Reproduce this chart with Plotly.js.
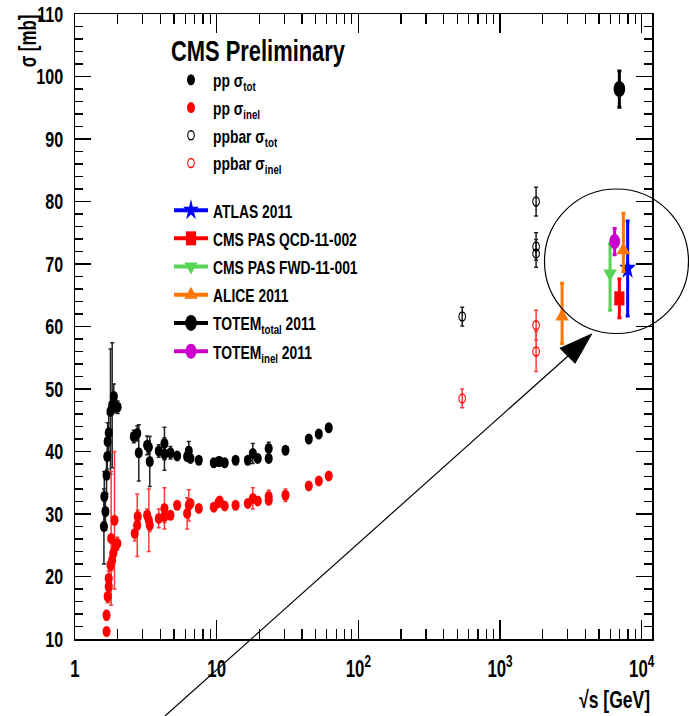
<!DOCTYPE html>
<html>
<head>
<meta charset="utf-8">
<script src="https://cdn.plot.ly/plotly-3.0.1.min.js"></script>
<style>html,body{margin:0;padding:0;background:#fff;}#chart{width:689px;height:716px;}</style>
</head>
<body>
<div id="chart"></div>
<script>
// ---------- data ----------
const ppTotE = [1.60,1.61,1.64,1.67,1.69,1.70,1.73,1.78,1.83,1.88,1.93,2.00,2.60,2.75,2.82,3.23,3.32,3.37,3.90,4.28,4.28,4.72,5.26,6.19,6.36,6.53,7.48,9.54,10.3,10.5,11.4,13.6,16.6,18.0,19.5,23.3,23.3,30.6,44.7,52.6,61.8];
const ppTot = [28.0,32.8,30.4,36.2,39.2,41.6,43.0,46.4,47.4,48.8,47.2,47.1,42.4,42.9,39.8,41.0,40.7,38.4,40.1,41.3,39.6,39.8,39.3,39.2,40.1,38.9,38.6,38.2,38.4,38.4,38.2,38.6,38.6,39.7,38.9,40.5,38.9,40.2,42.0,42.8,43.8];
const ppTotErr = [6,4,3,3,2,3,3,10,10,2,1,1,1,1.2,4.5,1.5,1,4,1,2.6,2.6,1,0.5,0.5,1.5,0.5,0.5,0.3,0.3,0.3,0.3,0.5,0.5,1.6,0.6,1,0.5,0.3,0.3,0.3,0.3];

const ppInelE = [1.67,1.67,1.70,1.73,1.73,1.78,1.80,1.83,1.86,1.90,1.93,1.99,2.64,2.75,2.77,3.23,3.32,3.37,3.90,4.28,4.28,4.72,5.26,6.19,6.36,6.53,7.48,9.54,10.3,10.5,11.4,13.6,16.6,18.0,19.5,23.3,23.3,30.6,44.7,52.6,61.8];
const ppInel = [11.2,13.8,16.8,18.4,19.7,21.8,26.1,22.6,23.7,29.0,24.8,25.3,26.9,28.2,29.6,29.8,29.0,28.2,29.3,30.9,29.6,29.8,31.4,30.1,31.4,31.7,30.9,31.1,31.8,32.1,31.3,31.4,31.7,32.5,32.1,32.8,32.2,33.0,34.5,35.3,36.1];
const ppInelErr = [0.5,0.8,1,2.5,2.5,1,10.7,1.5,1.5,11,1,1,1.2,5,1,1,5,1,1.5,3.3,1,0.5,0.5,2.5,2.5,0.5,0.5,0.3,0.5,0.5,0.3,0.3,0.3,1.7,0.6,1,0.5,1,0.3,0.3,0.3];

const ppbarTotE = [541,1798,1798,1798];
const ppbarTot = [61.6,80.0,72.8,71.7];
const ppbarTotErr = [1.5,2.3,2.2,2.2];

const ppbarInelE = [541,1798,1798];
const ppbarInel = [48.5,60.2,56.0];
const ppbarInelErr = [1.5,2.4,3.2];

const atlasE = [7966], atlas = [69.3], atlasUp = [7.6], atlasDn = [7.6];
const cmsQcdE = [6960], cmsQcd = [64.5], cmsQcdUp = [3.1], cmsQcdDn = [3.1];
const cmsFwdE = [5984], cmsFwd = [68.5], cmsFwdUp = [4.7], cmsFwdDn = [5.9];
const aliceE = [2744,7430], alice = [61.6,72.2], aliceUp = [5.3,5.9], aliceDn = [4.3,3.4];
const totemTotE = [6960], totemTot = [98.0], totemTotErr = [2.9];
const totemInelE = [6448], totemInel = [73.6], totemInelErr = [2.1];

const xTickVals = [1,10,100,1000,10000];
const xTickText = ['1','10','10<sup>2</sup>','10<sup>3</sup>','10<sup>4</sup>'];
const yTickVals = [10,20,30,40,50,60,70,80,90,100,110];

// ---------- styling ----------
const FONT = '"Liberation Sans", Arial, Helvetica, sans-serif';
const SQUEEZE = 0.73;   // the reference glyphs and markers are horizontally condensed

function lhc(name, group, x, y, up, dn, color, symbol, size, showLeg) {
  return {
    type:'scatter', mode:'lines+markers', name:name, legendgroup:group, showlegend:showLeg,
    x:x, y:y,
    line:{color:color, width:4},
    marker:{symbol:symbol, color:color, size:size, line:{width:0}},
    error_y:{type:'data', symmetric:false, array:up, arrayminus:dn, color:color, thickness:3, width:2}
  };
}

const atlasTrace = lhc('ATLAS 2011', 'g1', atlasE, atlas, atlasUp, atlasDn, '#0000ff', 'star', 17, true);
atlasTrace.legendgrouptitle = {text: '\u00a0', font: {size: 2}};

const traces = [
  {type:'scatter', mode:'markers', name:'pp σ<sub>tot</sub>', legendgroup:'old', x:ppTotE, y:ppTot,
   marker:{symbol:'circle', color:'black', size:11},
   error_y:{type:'data', array:ppTotErr, color:'#222', thickness:1.5, width:2}},
  {type:'scatter', mode:'markers', name:'pp σ<sub>inel</sub>', legendgroup:'old', x:ppInelE, y:ppInel,
   marker:{symbol:'circle', color:'#ff0000', size:11},
   error_y:{type:'data', array:ppInelErr, color:'#ff3a3a', thickness:1.5, width:2}},
  {type:'scatter', mode:'markers', name:'ppbar σ<sub>tot</sub>', legendgroup:'old', x:ppbarTotE, y:ppbarTot,
   marker:{symbol:'circle-open', color:'black', size:9, line:{width:1.5}},
   error_y:{type:'data', array:ppbarTotErr, color:'#222', thickness:1.5, width:2}},
  {type:'scatter', mode:'markers', name:'ppbar σ<sub>inel</sub>', legendgroup:'old', x:ppbarInelE, y:ppbarInel,
   marker:{symbol:'circle-open', color:'#ff0000', size:9, line:{width:1.5}},
   error_y:{type:'data', array:ppbarInelErr, color:'#ff3a3a', thickness:1.5, width:2}},
  atlasTrace,
  lhc('CMS PAS QCD-11-002', 'g2', cmsQcdE, cmsQcd, cmsQcdUp, cmsQcdDn, '#ff0000', 'square', 14, true),
  lhc('CMS PAS FWD-11-001', 'g3', cmsFwdE, cmsFwd, cmsFwdUp, cmsFwdDn, '#55d455', 'triangle-down', 16, true),
  lhc('ALICE 2011', 'g4', [aliceE[0]], [alice[0]], [aliceUp[0]], [aliceDn[0]], '#ff7700', 'triangle-up', 16, true),
  lhc('ALICE 2011', 'g4', [aliceE[1]], [alice[1]], [aliceUp[1]], [aliceDn[1]], '#ff7700', 'triangle-up', 16, false),
  lhc('TOTEM<sub>total</sub> 2011', 'g5', totemTotE, totemTot, totemTotErr, totemTotErr, '#000000', 'circle', 16, true),
  lhc('TOTEM<sub>inel</sub> 2011', 'g6', totemInelE, totemInel, totemInelErr, totemInelErr, '#cc00cc', 'circle', 15, true)
];

// pixel -> paper helpers for the decorations (circle and arrow)
const L = 75, T = 14, W = 577, H = 625;
const px = v => (v - L) / W;
const py = v => (T + H - v) / H;

const layout = {
  width: 689, height: 716,
  margin: {l: L, r: 689 - L - W, t: T, b: 716 - T - H, pad: 0},
  paper_bgcolor: 'white', plot_bgcolor: 'white',
  font: {family: FONT, color: 'black', size: 19, weight: 'bold'},
  showlegend: true,
  legend: {
    x: px(169), y: py(22), xanchor: 'left', yanchor: 'top',
    bgcolor: 'rgba(0,0,0,0)', borderwidth: 0,
    font: {family: FONT, size: 19, color: 'black', weight: 'bold'},
    title: {text: 'CMS Preliminary', font: {family: FONT, size: 30, color: 'black', weight: 'bold'}},
    itemwidth: 34, tracegroupgap: 0.5, itemsizing: 'trace', groupclick: 'toggleitem'
  },
  xaxis: {
    type: 'log', range: [0, 4.073], automargin: false,
    showline: true, linecolor: 'black', linewidth: 1.5, mirror: 'ticks',
    showgrid: false, zeroline: false,
    ticks: 'inside', ticklen: 19, tickwidth: 1.2, tickcolor: 'black',
    tickmode: 'array', tickvals: xTickVals, ticktext: xTickText,
    ticklabelstandoff: 9,
    tickfont: {family: FONT, size: 23, color: 'black', weight: 'bold'},
    minor: {ticks: 'inside', ticklen: 10, tickwidth: 1.2, tickcolor: 'black', dtick: 'D1', showgrid: false}
  },
  yaxis: {
    range: [10, 110], automargin: false,
    showline: true, linecolor: 'black', linewidth: 1.5, mirror: 'ticks',
    showgrid: false, zeroline: false,
    ticks: 'inside', ticklen: 16, tickwidth: 1.2, tickcolor: 'black',
    tickmode: 'array', tickvals: yTickVals,
    ticklabelstandoff: 6,
    tickfont: {family: FONT, size: 22, color: 'black', weight: 'bold'},
    minor: {ticks: 'inside', ticklen: 8, tickwidth: 1.2, tickcolor: 'black', dtick: 2, tick0: 10, showgrid: false}
  },
  annotations: [
    {text: 'σ [mb]', xref: 'paper', yref: 'paper', x: px(28), y: py(41), textangle: -90,
     showarrow: false, xanchor: 'center', yanchor: 'middle',
     font: {family: FONT, size: 23, color: 'black', weight: 'bold'}},
    {text: '√s [GeV]', xref: 'paper', yref: 'paper', x: px(665), y: py(699),
     showarrow: false, xanchor: 'right', yanchor: 'middle',
     font: {family: FONT, size: 24, color: 'black', weight: 'bold'}}
  ],
  shapes: [
    {type: 'circle', xref: 'paper', yref: 'paper', x0: px(544.5), x1: px(688.5), y0: py(333.5), y1: py(189),
     line: {color: 'black', width: 1.2}, fillcolor: 'rgba(0,0,0,0)', layer: 'above'},
    {type: 'line', xref: 'paper', yref: 'paper', x0: px(165), y0: py(716), x1: px(568), y1: py(356),
     line: {color: 'black', width: 1.2}, layer: 'above'},
    {type: 'path', xref: 'paper', yref: 'paper',
     path: 'M ' + px(591.7) + ' ' + py(334) + ' L ' + px(560) + ' ' + py(348.3) + ' L ' + px(575) + ' ' + py(363.3) + ' Z',
     fillcolor: 'black', line: {color: 'black', width: 1}, layer: 'above'}
  ]
};

// condense texts and markers horizontally, the way the reference image is
function condense(gd) {
  gd.querySelectorAll('svg text').forEach(t => {
    const x = parseFloat(t.getAttribute('x')) || 0;
    const old = t.getAttribute('transform') || '';
    t.setAttribute('transform', old + ' translate(' + x + ',0) scale(' + SQUEEZE + ',1) translate(' + (-x) + ',0)');
  });
  gd.querySelectorAll('path.point, .legendpoints path.scatterpts').forEach(p => {
    const old = p.getAttribute('transform') || '';
    p.setAttribute('transform', old + ' scale(' + SQUEEZE + ',1)');
  });
}

const gd = document.getElementById('chart');
Plotly.newPlot(gd, traces, layout, {displayModeBar: false, staticPlot: true}).then(() => condense(gd));
</script>
</body>
</html>
